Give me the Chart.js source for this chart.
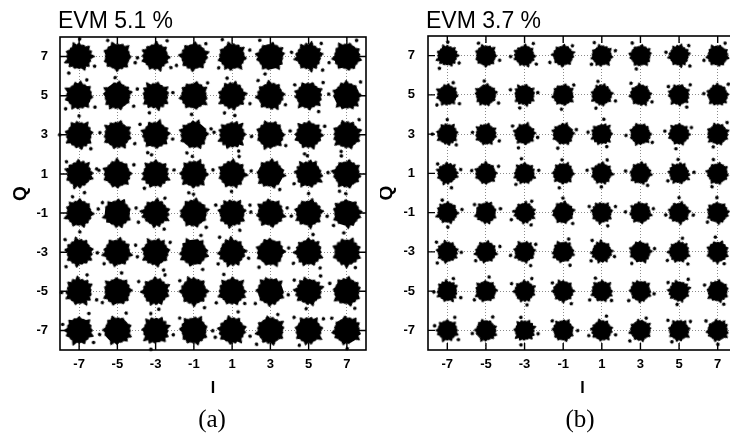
<!DOCTYPE html>
<html><head><meta charset="utf-8">
<script src="https://cdn.jsdelivr.net/npm/chart.js@4/dist/chart.umd.min.js"></script>
<style>
html,body{margin:0;padding:0;background:#fff;overflow:hidden;width:730px;height:437px}
#wa{position:absolute;left:0;top:0;width:380px;height:437px}
#wb{position:absolute;left:380px;top:0;width:372px;height:437px}
canvas{display:block}
</style></head><body>
<div id="wa"><canvas id="ca" width="380" height="437"></canvas></div>
<div id="wb"><canvas id="cb" width="372" height="437"></canvas></div>
<script>
// ---- data ----
const iLevels = [-7, -5, -3, -1, 1, 3, 5, 7];
const qLevels = [-7, -5, -3, -1, 1, 3, 5, 7];
const tickValues = [-7, -5, -3, -1, 1, 3, 5, 7];
const tickLabels = ['-7', '-5', '-3', '-1', '1', '3', '5', '7'];
const evmValues = [5.1, 3.7];
const panelTitles = ['EVM 5.1 %', 'EVM 3.7 %'];
const panelCaptions = ['(a)', '(b)'];
const xTitle = 'I';
const yTitle = 'Q';

// ---- styles (blob outline shapes for the received-symbol clouds) ----
const blobShapes = [
  [1.0,1.15,0.92,1.08,0.95,1.2,0.9,1.05,1.12,0.93,1.1,0.96,1.04,0.9,1.14,0.97],
  [1.1,0.94,1.05,1.18,0.9,1.0,1.12,0.92,1.06,1.15,0.95,1.02,0.9,1.1,0.98,1.16],
  [0.95,1.08,1.2,0.93,1.04,0.9,1.14,1.0,0.92,1.1,1.02,1.16,0.94,1.06,1.12,0.9],
  [1.05,0.9,1.1,1.0,1.16,0.94,1.02,1.2,0.95,1.04,0.91,1.1,1.0,1.14,0.93,1.07],
  [1.12,1.0,0.93,1.15,0.97,1.08,0.9,1.1,1.03,0.94,1.18,0.98,1.06,0.92,1.1,1.01],
  [0.92,1.12,1.0,0.95,1.2,1.04,0.96,1.1,0.9,1.14,1.0,1.06,0.93,1.17,0.99,1.08]
];
const blobValleys = [0.88, 0.9, 0.86, 0.9, 0.87, 0.89];
const blobSatellites = [
  [[40,1.45],[200,1.35],[300,1.5]],
  [[120,1.4],[250,1.5]],
  [[10,1.5],[160,1.35],[280,1.4]],
  [[80,1.45],[220,1.45]],
  [[330,1.4],[100,1.5],[190,1.45]],
  [[60,1.35],[260,1.5]]
];

function makeBlob(R, shape, valley, sats) {
  const size = Math.ceil(R * 3.6) + 4;
  const c = document.createElement('canvas');
  c.width = size; c.height = size;
  const g = c.getContext('2d');
  const cx = size / 2, cy = size / 2;
  g.fillStyle = '#000'; g.strokeStyle = '#000';
  g.lineJoin = 'round'; g.lineWidth = 1.5;
  g.beginPath();
  const n = shape.length;
  for (let k = 0; k < n; k++) {
    const a = (k / n) * Math.PI * 2;
    const r = R * shape[k];
    const x = cx + Math.cos(a) * r, y = cy + Math.sin(a) * r;
    if (k === 0) g.moveTo(x, y); else g.lineTo(x, y);
    const a2 = ((k + 0.5) / n) * Math.PI * 2;
    const r2 = R * valley;
    g.lineTo(cx + Math.cos(a2) * r2, cy + Math.sin(a2) * r2);
  }
  g.closePath(); g.fill(); g.stroke();
  sats.forEach(([deg, f]) => {
    const a = deg * Math.PI / 180;
    g.beginPath();
    g.arc(cx + Math.cos(a) * R * f, cy + Math.sin(a) * R * f, 1.8, 0, Math.PI * 2);
    g.fill();
  });
  return c;
}
const blobsA = blobShapes.map((s, k) => makeBlob(13, s, blobValleys[k], blobSatellites[k]));
const blobsB = blobShapes.map((s, k) => makeBlob(10, s, blobValleys[k], blobSatellites[k]));

function buildPoints() {
  const pts = [];
  qLevels.forEach(q => iLevels.forEach(i => pts.push({ x: i, y: q })));
  return pts;
}

const framePlugin = {
  id: 'frame',
  afterDatasetsDraw(chart, args, opts) {
    const { ctx, chartArea: a, scales } = chart;
    ctx.save();
    ctx.strokeStyle = '#000';
    ctx.lineWidth = 1.6;
    ctx.strokeRect(a.left, a.top, a.right - a.left, a.bottom - a.top);
    ctx.lineWidth = 1.4;
    ctx.beginPath();
    tickValues.forEach(v => {
      const x = scales.x.getPixelForValue(v);
      ctx.moveTo(x, a.top); ctx.lineTo(x, a.top + 7);
      ctx.moveTo(x, a.bottom); ctx.lineTo(x, a.bottom - 7);
      const y = scales.y.getPixelForValue(v);
      ctx.moveTo(a.left, y); ctx.lineTo(a.left + 7, y);
      ctx.moveTo(a.right, y); ctx.lineTo(a.right - 7, y);
    });
    ctx.stroke();
    ctx.restore();
  },
  afterDraw(chart, args, opts) {
    const { ctx, chartArea: a } = chart;
    ctx.save();
    ctx.fillStyle = '#000';
    ctx.font = '23px "Liberation Sans", Arial, sans-serif';
    ctx.textAlign = 'left';
    ctx.textBaseline = 'alphabetic';
    ctx.fillText(opts.title, a.left - 2, 28);
    ctx.font = '25px "Liberation Serif", "Times New Roman", serif';
    ctx.textAlign = 'center';
    ctx.textBaseline = 'middle';
    ctx.fillText(opts.caption, opts.captionX, 420);
    ctx.restore();
  }
};

function makeChart(id, k, blobs, pad, yWidth, yTickPad, yTitlePad, captionX) {
  const setTicks = s => { s.ticks = tickValues.map(v => ({ value: v })); };
  const lbl = v => { const i = tickValues.indexOf(v); return i >= 0 ? tickLabels[i] : ''; };
  return new Chart(document.getElementById(id), {
    type: 'scatter',
    data: {
      datasets: [{
        label: panelTitles[k],
        data: buildPoints(),
        pointStyle: c => blobs[c.dataIndex % blobs.length],
        rotation: c => (c.dataIndex * 47) % 360,
        pointRadius: 13,
        backgroundColor: '#000',
        borderColor: '#000',
        clip: false
      }]
    },
    options: {
      responsive: false,
      animation: false,
      events: [],
      layout: { padding: pad },
      plugins: {
        legend: { display: false },
        tooltip: { enabled: false },
        frame: { title: panelTitles[k], caption: panelCaptions[k], captionX: captionX }
      },
      scales: {
        x: {
          type: 'linear', min: -8, max: 8,
          afterBuildTicks: setTicks,
          afterFit: s => { s.height = 50; },
          ticks: { callback: lbl, autoSkip: false, maxRotation: 0, padding: 7, color: '#000',
                   font: { family: '"Liberation Sans", Arial, sans-serif', size: 13, weight: 'bold' } },
          grid: { color: '#8a8a8a', lineWidth: 1, drawTicks: false },
          border: { display: false, dash: [1, 2] },
          title: { display: true, text: xTitle, color: '#000', padding: { top: 0, bottom: 2 },
                   font: { family: '"Liberation Sans", Arial, sans-serif', size: 16, weight: 'bold' } }
        },
        y: {
          type: 'linear', min: -8, max: 8,
          afterBuildTicks: setTicks,
          afterFit: s => { s.width = yWidth; },
          ticks: { callback: lbl, autoSkip: false, padding: yTickPad, color: '#000',
                   font: { family: '"Liberation Sans", Arial, sans-serif', size: 13, weight: 'bold' } },
          grid: { color: '#8a8a8a', lineWidth: 1, drawTicks: false },
          border: { display: false, dash: [1, 2] },
          title: { display: true, text: yTitle, color: '#000', padding: { top: yTitlePad, bottom: 0 },
                   font: { family: '"Liberation Sans", Arial, sans-serif', size: 19, weight: 'bold' } }
        }
      }
    },
    plugins: [framePlugin]
  });
}

makeChart('ca', 0, blobsA, { left: 0, right: 11, top: 37, bottom: 37 }, 60, 12, 9, 212);
makeChart('cb', 1, blobsB, { left: 0, right: 15, top: 36, bottom: 37 }, 48, 13, -5, 200);
</script>
</body></html>
